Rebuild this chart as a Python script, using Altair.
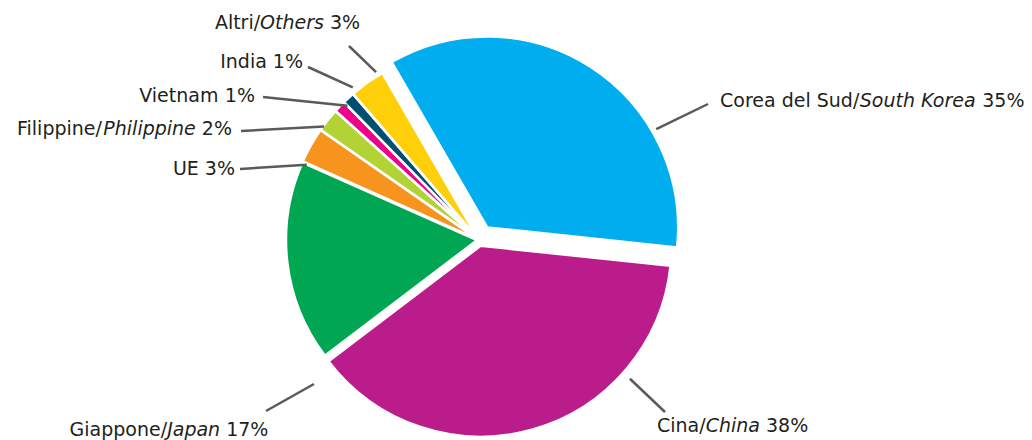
import math
import altair as alt
import pandas as pd

# ---------------- data ----------------
categories = ["Corea del Sud", "Cina", "Giappone", "UE", "Filippine", "Vietnam", "India", "Altri"]
categories_en = ["South Korea", "China", "Japan", "", "Philippine", "", "", "Others"]
shares = [35, 38, 17, 3, 2, 1, 1, 3]

# ---------------- styles / layout ----------------
colors = ["#00AEEF", "#BA1C8C", "#00A651", "#F7941D", "#B3D235", "#EC008C", "#004F71", "#FFD00A"]
explode = [15, 6, 2, 2, 2, 2, 2, 2]
CX, CY, R = 471, 232, 191
START = -math.pi / 6
FONT = "DejaVu Sans"
FS = 19
TEXT_COLOR = "#231F20"
LINE_COLOR = "#5A5A5A"

# label anchor (x, baseline y), alignment, leader start (angle deg, radius), leader end offset from anchor
label_layout = [
    (712, 99, "left", 58.0, 209, (-12, -3)),
    (649, 424, "left", 132.6, 205, (8, -20)),
    (161, 428, "center", 228.9, 219, (97, -25)),
    (227, 167, "right", 293.6, 188, (5, -6)),
    (224, 127, "right", 306.2, 192, (9, -4)),
    (247, 94, "right", 315.6, 188, (8, -5)),
    (295, 60, "right", 320.4, 198, (5, -1)),
    (279.5, 21, "center", 328.5, 197, (61.5, 17)),
]

# DejaVu Sans advance widths (em)
W = {" ": .318, "%": .950, "/": .337, "0": .636, "1": .636, "2": .636, "3": .636, "4": .636,
     "5": .636, "6": .636, "7": .636, "8": .636, "9": .636,
     "A": .684, "C": .698, "E": .632, "F": .575, "G": .775, "I": .295, "J": .295, "K": .656,
     "O": .787, "P": .603, "S": .635, "U": .732, "V": .684,
     "a": .613, "c": .550, "d": .635, "e": .615, "h": .634, "i": .278, "l": .278, "m": .974,
     "n": .634, "o": .612, "p": .635, "r": .411, "s": .521, "t": .392, "u": .634}


def tw(s):
    return sum(W.get(ch, 0.6) for ch in s) * FS


# ---------------- slices ----------------
slices = pd.DataFrame({
    "cat": categories,
    "value": shares,
    "order": list(range(len(categories))),
    "explode": explode,
})

pie = (
    alt.Chart(slices)
    .transform_joinaggregate(total="sum(value)")
    .transform_window(cum="sum(value)", sort=[alt.SortField("order")], frame=[None, 0])
    .transform_calculate(t1=f"{START} + 2*PI*datum.cum/datum.total")
    .transform_calculate(t0="datum.t1 - 2*PI*datum.value/datum.total")
    .transform_calculate(mid="(datum.t0 + datum.t1)/2")
    .transform_calculate(
        px=f"{CX} + datum.explode*sin(datum.mid)",
        py=f"{CY} - datum.explode*cos(datum.mid)",
    )
    .mark_arc(outerRadius=R, stroke="white", strokeWidth=2.5)
    .encode(
        theta=alt.Theta("t0:Q", scale=None),
        theta2="t1:Q",
        x=alt.X("px:Q", scale=None),
        y=alt.Y("py:Q", scale=None),
        color=alt.Color("cat:N", scale=alt.Scale(domain=categories, range=colors), legend=None),
    )
)

# ---------------- labels ----------------
text_rows = []
leader_rows = []
for i, cat in enumerate(categories):
    ax, ay, align, ang, rr, (ox, oy) = label_layout[i]
    pct = f"{shares[i]}%"
    if categories_en[i]:
        segs = [(cat + "/", False), (categories_en[i], True), (pct, False)]
        gaps = [0, 0, tw(" ")]
    else:
        segs = [(cat, False), (pct, False)]
        gaps = [0, tw(" ")]
    total = sum(tw(s) for s, _ in segs) + sum(gaps)
    if align == "left":
        x = ax
    elif align == "right":
        x = ax - total
    else:
        x = ax - total / 2
    for (s, it), g in zip(segs, gaps):
        x += g
        text_rows.append({"tx": x, "ty": ay, "txt": s, "italic": it})
        x += tw(s)
    a = math.radians(ang)
    leader_rows.append({
        "x1": CX + rr * math.sin(a), "y1": CY - rr * math.cos(a),
        "x2": ax + ox, "y2": ay + oy,
    })

texts = pd.DataFrame(text_rows)
leaders = pd.DataFrame(leader_rows)

lines = alt.Chart(leaders).mark_rule(color=LINE_COLOR, strokeWidth=2.5).encode(
    x=alt.X("x1:Q", scale=None), y=alt.Y("y1:Q", scale=None),
    x2="x2:Q", y2="y2:Q",
)

normal_txt = alt.Chart(texts).transform_filter("!datum.italic").mark_text(
    align="left", baseline="alphabetic", font=FONT, fontSize=FS, color=TEXT_COLOR
).encode(x=alt.X("tx:Q", scale=None), y=alt.Y("ty:Q", scale=None), text="txt:N")

italic_txt = alt.Chart(texts).transform_filter("datum.italic").mark_text(
    align="left", baseline="alphabetic", font=FONT, fontSize=FS, color=TEXT_COLOR, fontStyle="italic"
).encode(x=alt.X("tx:Q", scale=None), y=alt.Y("ty:Q", scale=None), text="txt:N")

chart = (
    alt.layer(pie, lines, normal_txt, italic_txt)
    .properties(width=1016, height=432, padding=0, autosize="none", background="white")
    .configure_view(stroke=None)
)

chart.save("out.html", embed_options={"renderer": "svg", "actions": False})
